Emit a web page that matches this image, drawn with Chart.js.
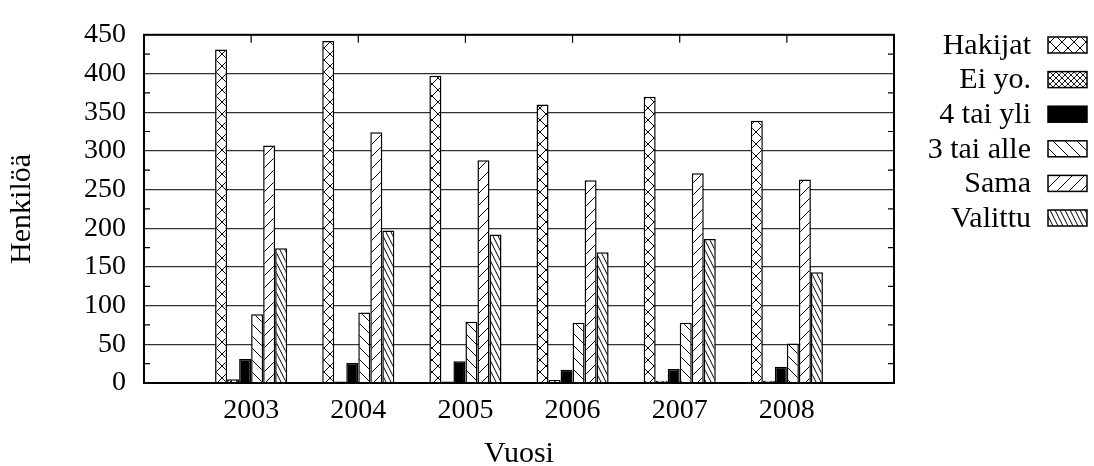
<!DOCTYPE html>
<html>
<head>
<meta charset="utf-8">
<script src="https://cdn.jsdelivr.net/npm/chart.js@4"></script>
<style>
  html, body { margin: 0; padding: 0; background: #fff; }
</style>
</head>
<body>
<canvas id="chart" width="1094" height="466"></canvas>
<script>
const years = ["2003", "2004", "2005", "2006", "2007", "2008"];
const hakijat = [431, 442, 397, 360, 370, 339];
const eiYo = [5, 2, 2, 4, 3, 3];
const neljaTaiYli = [31, 26, 28, 17, 18, 21];
const kolmeTaiAlle = [89, 91, 79, 78, 78, 51];
const sama = [307, 324, 288, 262, 271, 263];
const valittu = [174, 197, 192, 169, 186, 143];
const seriesNames = ["Hakijat", "Ei yo.", "4 tai yli", "3 tai alle", "Sama", "Valittu"];
const yMin = 0, yMax = 450, yStep = 50, yMinorStep = 25;

const FONT = "'Liberation Serif', 'Times New Roman', serif";

// hatch patterns, roughly like gnuplot's fill patterns
function hatch(w, h, dirs, lw) {
  const c = document.createElement("canvas");
  c.width = w; c.height = h;
  const g = c.getContext("2d");
  g.fillStyle = "#fff";
  g.fillRect(0, 0, w, h);
  g.strokeStyle = "#000";
  g.lineWidth = lw;
  dirs.forEach((d) => {
    for (let k = -1; k <= 1; k++) {
      g.beginPath();
      if (d === "\\") { g.moveTo(k * w - w, -h); g.lineTo(k * w + 2 * w, 2 * h); }
      else { g.moveTo(k * w + 2 * w, -h); g.lineTo(k * w - w, 2 * h); }
      g.stroke();
    }
  });
  return g.createPattern(c, "repeat");
}

const fills = [
  hatch(12, 12, ["\\", "/"], 1),
  hatch(6, 6, ["\\", "/"], 0.9),
  "#000",
  hatch(12, 12, ["\\"], 1),
  hatch(12, 12, ["/"], 1),
  hatch(5, 10, ["\\"], 1),
];

const pad = (arr) => [null, ...arr, null];
const labels = ["", ...years, ""];
const seriesValues = [hakijat, eiYo, neljaTaiYli, kolmeTaiAlle, sama, valittu];

const frame = {
  id: "frame",
  afterDatasetsDraw(chart) {
    const { ctx, chartArea: a, scales } = chart;
    ctx.save();
    ctx.strokeStyle = "#000";
    ctx.lineWidth = 1.2;
    // minor y ticks, left and right
    for (let v = yMin + yMinorStep; v < yMax; v += yStep) {
      const y = scales.y.getPixelForValue(v);
      ctx.beginPath();
      ctx.moveTo(a.left, y); ctx.lineTo(a.left + 6, y);
      ctx.moveTo(a.right, y); ctx.lineTo(a.right - 6, y);
      ctx.stroke();
    }
    // x ticks on the top border
    years.forEach((yr, i) => {
      const x = scales.x.getPixelForValue(i + 1);
      ctx.beginPath();
      ctx.moveTo(x, a.top); ctx.lineTo(x, a.top + 8);
      ctx.stroke();
    });
    ctx.lineWidth = 2;
    ctx.strokeRect(a.left, a.top, a.right - a.left, a.bottom - a.top);
    ctx.restore();
  },
  afterDraw(chart) {
    const { ctx } = chart;
    ctx.save();
    ctx.font = "30px " + FONT;
    ctx.textAlign = "right";
    ctx.textBaseline = "middle";
    chart.data.datasets.forEach((ds, i) => {
      const cy = 45 + i * 34.6;
      ctx.fillStyle = "#000";
      ctx.fillText(ds.label, 1031, cy + 1);
      ctx.fillStyle = ds.backgroundColor;
      ctx.fillRect(1048, cy - 8, 39, 16);
      ctx.strokeStyle = "#000";
      ctx.lineWidth = 1.5;
      ctx.strokeRect(1048, cy - 8, 39, 16);
    });
    ctx.restore();
  },
};

new Chart(document.getElementById("chart"), {
  type: "bar",
  data: {
    labels: labels,
    datasets: seriesNames.map((name, i) => ({
      label: name,
      data: pad(seriesValues[i]),
      backgroundColor: fills[i],
      borderColor: "#000",
      borderWidth: 1.5,
      categoryPercentage: 0.673,
      barPercentage: 1,
    })),
  },
  options: {
    responsive: false,
    animation: false,
    layout: { padding: { top: 27, right: 200, left: 0, bottom: 0 } },
    plugins: { legend: { display: false }, tooltip: { enabled: false } },
    scales: {
      x: {
        offset: false,
        grid: { display: false },
        border: { display: false },
        ticks: { color: "#000", font: { family: FONT, size: 28 }, padding: 3, autoSkip: false, maxRotation: 0 },
        title: { display: true, text: "Vuosi", color: "#000", font: { family: FONT, size: 30, lineHeight: 0.8 }, padding: 0 },
        afterFit: (s) => { s.height = 83; },
      },
      y: {
        min: yMin,
        max: yMax,
        ticks: { stepSize: yStep, color: "#000", font: { family: FONT, size: 28 }, padding: 18 },
        grid: { color: "#333", lineWidth: 1.2, drawTicks: false },
        border: { display: false },
        title: { display: true, text: "Henkilöä", color: "#000", font: { family: FONT, size: 30 }, padding: { top: 4, bottom: 0 } },
        afterFit: (s) => { s.width = 144; },
      },
    },
  },
  plugins: [frame],
});
</script>
</body>
</html>
